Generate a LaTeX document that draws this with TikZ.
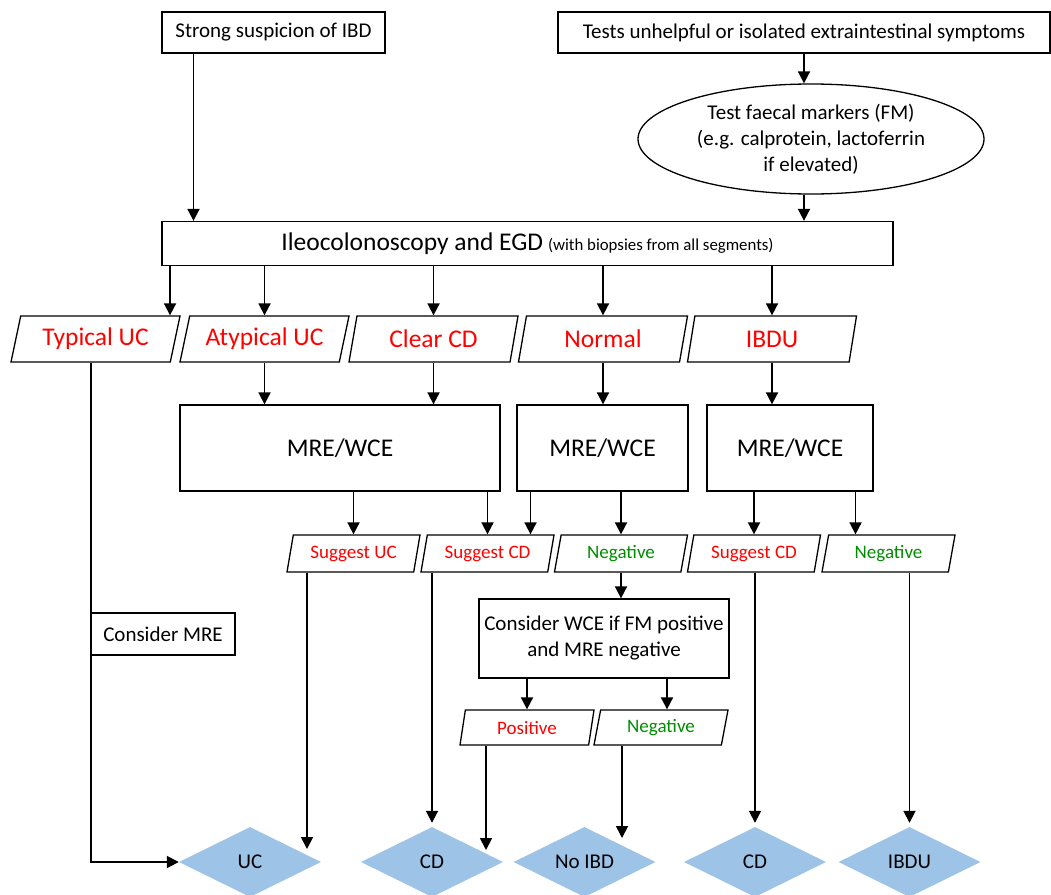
\documentclass[tikz,border=0pt]{standalone}
\usepackage{fontspec}
\setmainfont{Carlito}
\usepackage{tikz}
\usetikzlibrary{shapes.geometric}
\usetikzlibrary{arrows.meta}
\definecolor{ibdred}{RGB}{255,0,0}
\definecolor{ibdgreen}{RGB}{0,140,0}
\definecolor{ibdblue}{RGB}{157,195,230}

\begin{document}
\begin{tikzpicture}[x=1pt, y=-1pt,
    box/.style={draw, line width=1.3pt, fill=white, minimum height=41pt, inner sep=2pt, font=\fontsize{21}{26}\selectfont},
    bigbox/.style={box, minimum height=86pt, font=\fontsize{25.5}{30}\selectfont},
    result/.style={trapezium, trapezium left angle=66, trapezium right angle=114, trapezium stretches body, draw, line width=1.3pt, minimum width=169pt, minimum height=46pt, inner sep=0pt, text=ibdred, font=\fontsize{25.5}{30}\selectfont},
    finding/.style={result, trapezium left angle=68, trapezium right angle=112, minimum width=133pt, minimum height=37pt, font=\fontsize{19}{22}\selectfont},
    dx/.style={diamond, aspect=2, fill=ibdblue, minimum width=142pt, minimum height=70pt, inner sep=0pt, font=\fontsize{21}{26}\selectfont},
    arr/.style={line width=1.8pt, -{Triangle[length=12pt,width=12pt]}}]
    \useasboundingbox (0,0) rectangle (1051,894);
    %start
    \node[box, minimum width=223pt] (strong) at (273.5,32.5) {Strong suspicion of IBD};
    \node[box, minimum width=492pt] (tests) at (804,32.5) {Tests unhelpful or isolated extraintestinal symptoms};
    \node[ellipse, draw, line width=1.3pt, minimum width=346pt, minimum height=110pt, inner sep=0pt, align=center, font=\fontsize{21}{26}\selectfont] (fm) at (811,139) {Test faecal markers (FM)\\(e.g. calprotein, lactoferrin\\if elevated)};
    \node[box, minimum width=731pt, minimum height=44pt] (main) at (527.5,243.5) {{\fontsize{25.5}{30}\selectfont Ileocolonoscopy and EGD} {\fontsize{16.8}{19}\selectfont (with biopsies from all segments)}};
    \draw[arr] ([xshift=-80pt]strong.south) -- ([xshift=-80pt]strong.south |- main.north);
    \draw[arr] (tests.south) -- (tests.south |- fm.north);
    \draw[arr] (fm.south -| tests.south) -- (main.north -| tests.south);
    %endoscopy findings
    \node[result] (typ) at (95.5,339) {Typical UC};
    \node[result] (atyp) at (264.5,339) {Atypical UC};
    \node[result] (clear) at (433.5,339) {Clear CD};
    \node[result] (normal) at (603,339) {Normal};
    \node[result] (ibdu) at (772,339) {IBDU};
    \draw[arr] ([xshift=74.5pt]typ.north |- main.south) -- ([xshift=74.5pt]typ.north);
    \foreach \f in {atyp,clear,normal,ibdu}
      \draw[arr] (main.south -| \f.north) -- (\f.north);
    %small bowel imaging
    \node[bigbox, minimum width=320pt] (mre1) at (340,448) {MRE/WCE};
    \node[bigbox, minimum width=171pt] (mre2) at (602.5,448) {MRE/WCE};
    \node[bigbox, minimum width=166pt] (mre3) at (790,448) {MRE/WCE};
    \draw[arr] (atyp.south) -- (atyp.south |- mre1.north);
    \draw[arr] (clear.south) -- (clear.south |- mre1.north);
    \draw[arr] (normal.south) -- (normal.south |- mre2.north);
    \draw[arr] (ibdu.south) -- (ibdu.south |- mre3.north);
    %imaging results
    \node[finding] (sUC) at (353.5,553.5) {Suggest UC};
    \node[finding] (sCD) at (487.5,553.5) {Suggest CD};
    \node[finding, text=ibdgreen] (neg) at (621,553.5) {Negative};
    \node[finding] (sCDb) at (754,553.5) {Suggest CD};
    \node[finding, text=ibdgreen] (negb) at (888.5,553.5) {Negative};
    \draw[arr] (mre1.south -| sUC.north) -- (sUC.north);
    \draw[arr] (mre1.south -| sCD.north) -- (sCD.north);
    \draw[arr] ([xshift=43pt]sCD.north |- mre2.south) -- ([xshift=43pt]sCD.north);
    \draw[arr] (mre2.south -| neg.north) -- (neg.north);
    \draw[arr] (mre3.south -| sCDb.north) -- (sCDb.north);
    \draw[arr] ([xshift=-33pt]negb.north |- mre3.south) -- ([xshift=-33pt]negb.north);
    %capsule step
    \node[box, minimum width=250pt, minimum height=79pt, align=center] (wce) at (604,638.5) {Consider WCE if FM positive\\and MRE negative};
    \draw[arr] (neg.south) -- (neg.south |- wce.north);
    \node[finding, minimum width=134pt, minimum height=35pt] (pos) at (527,727.5) {Positive};
    \node[finding, minimum width=134pt, minimum height=35pt, text=ibdgreen] (negc) at (661,727.5) {Negative};
    \draw[arr] (wce.south -| pos.north) -- (pos.north);
    \draw[arr] ([xshift=6pt]negc.north |- wce.south) -- ([xshift=6pt]negc.north);
    %diagnoses
    \node[dx] (dUC) at (250,862) {UC};
    \node[dx] (dCD) at (432,862) {CD};
    \node[dx] (dNo) at (584.5,862) {No IBD};
    \node[dx] (dCDb) at (755,862) {CD};
    \node[dx] (dIBDU) at (909.5,862) {IBDU};
    \draw[arr] ([xshift=-4.5pt]typ.south) |- (dUC.west);
    \node[box, minimum width=144pt, minimum height=42pt] (cmre) at (163,634) {Consider MRE};
    \draw[arr] ([xshift=-46.5pt]sUC.south) -- ([xshift=-46.5pt, yshift=13pt]sUC.south |- dUC.center);
    \draw[arr] (sCD.south -| dCD.north) -- ([yshift=4pt]dCD.north);
    \draw[arr] ([xshift=-41pt]pos.south) -- ([xshift=-41pt, yshift=12pt]pos.south |- dCD.center);
    \draw[arr] ([xshift=-39pt]negc.south) -- ([xshift=-39pt, yshift=24pt]negc.south |- dNo.center);
    \draw[arr] (sCDb.south -| dCDb.north) -- ([yshift=4pt]dCDb.north);
    \draw[arr] (negb.south -| dIBDU.north) -- ([yshift=4pt]dIBDU.north);
\end{tikzpicture}
\end{document}
